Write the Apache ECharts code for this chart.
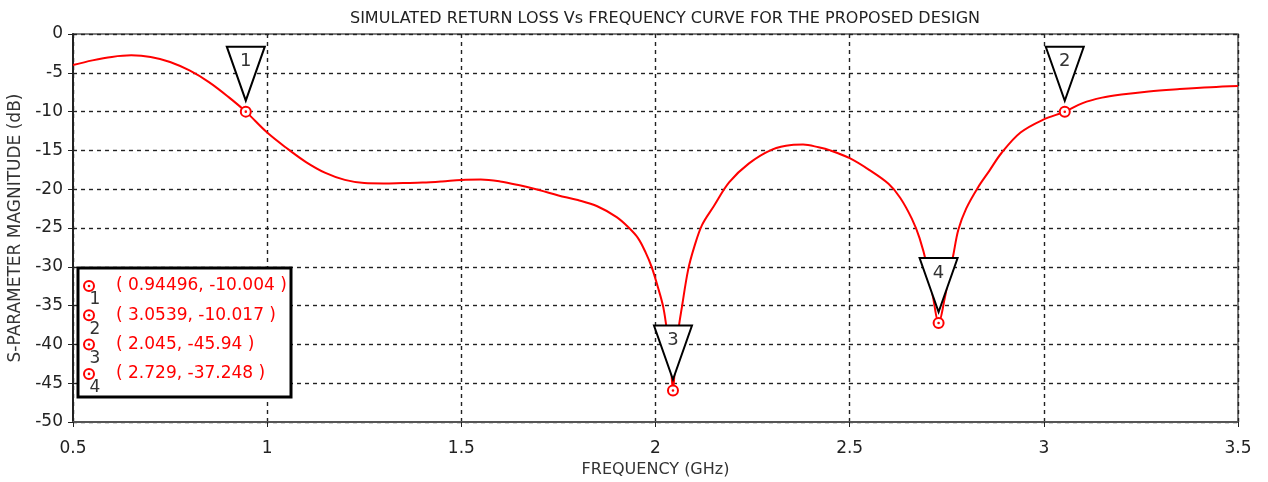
<!DOCTYPE html>
<html>
<head>
<meta charset="utf-8">
<script src="https://cdn.jsdelivr.net/npm/echarts@6/dist/echarts.min.js"></script>
<style>
  html, body { margin: 0; padding: 0; background: #fff; }
  #chart { width: 1268px; height: 482px; }
</style>
</head>
<body>
<div id="chart"></div>
<script>
// Simulated S11 sweep (GHz, dB)
const freqGHz = [
  0.50, 0.55, 0.60, 0.65, 0.70, 0.75, 0.80, 0.85, 0.90, 0.94496,
  1.00, 1.05, 1.10, 1.15, 1.20, 1.25, 1.30, 1.35, 1.40, 1.45,
  1.50, 1.55, 1.60, 1.65, 1.70, 1.75, 1.80, 1.85, 1.90, 1.93,
  1.955, 1.975, 1.99, 2.006, 2.02, 2.03, 2.04, 2.045, 2.05, 2.06,
  2.068, 2.084, 2.10, 2.12, 2.15, 2.19, 2.24, 2.30, 2.35, 2.38,
  2.42, 2.45, 2.50, 2.55, 2.60, 2.63, 2.66, 2.68, 2.70, 2.715,
  2.729, 2.745, 2.755, 2.766, 2.78, 2.80, 2.83, 2.86, 2.89, 2.94,
  3.00, 3.0539, 3.10, 3.15, 3.20, 3.27, 3.35, 3.43, 3.50
];
const returnLossDb = [
  -4.0, -3.4, -2.95, -2.75, -2.95, -3.6, -4.7, -6.2, -8.1, -10.004,
  -12.7, -14.7, -16.5, -17.9, -18.8, -19.2, -19.25, -19.2, -19.15, -19.0,
  -18.8, -18.75, -19.0, -19.5, -20.1, -20.8, -21.4, -22.2, -23.6, -24.9,
  -26.3, -28.2, -30.0, -32.6, -35.2, -38.5, -43.0, -45.94, -43.0, -37.8,
  -35.2, -30.4, -27.4, -24.6, -22.2, -19.1, -16.7, -14.9, -14.3, -14.25,
  -14.6, -15.0, -16.0, -17.5, -19.3, -21.1, -23.8, -26.3, -30.0, -34.0,
  -37.248, -34.0, -31.3, -28.7, -25.2, -22.5, -19.8, -17.6, -15.4, -12.7,
  -11.0, -10.017, -8.9, -8.2, -7.8, -7.4, -7.1, -6.85, -6.7
];

// Markers placed on the trace
const markerIds = [1, 2, 3, 4];
const markerFreq = [0.94496, 3.0539, 2.045, 2.729];
const markerDb = [-10.004, -10.017, -45.94, -37.248];

// Axis ticks
const xTicks = [0.5, 1, 1.5, 2, 2.5, 3, 3.5];
const yTicks = [0, -5, -10, -15, -20, -25, -30, -35, -40, -45, -50];

const FONT = "Tahoma, 'DejaVu Sans', sans-serif";

const traceData = freqGHz.map((f, i) => [f, returnLossDb[i]]);
const markerData = markerIds.map((id, i) => [markerFreq[i], markerDb[i], id]);

function markerGlyph(cx, cy) {
  return [
    { type: 'circle', shape: { cx, cy, r: 5 }, style: { fill: '#fff', stroke: '#ff0000', lineWidth: 2 } },
    { type: 'circle', shape: { cx, cy, r: 1.3 }, style: { fill: '#ff0000' } }
  ];
}

// Marker readout box
const boxX = 78, boxY = 268, rowH = 29.3;
const readout = [
  { type: 'rect', shape: { x: boxX, y: boxY, width: 213, height: 129 },
    style: { fill: '#fff', stroke: '#000', lineWidth: 3 }, z: 100 }
];
markerIds.forEach((id, i) => {
  const cy = boxY + 18 + i * rowH;
  markerGlyph(boxX + 11, cy).forEach(g => { g.z = 101; readout.push(g); });
  readout.push({ type: 'text', z: 101, style: {
    text: String(id), x: boxX + 17, y: cy + 14, align: 'center', verticalAlign: 'middle',
    font: '17px ' + FONT, fill: '#333' } });
  readout.push({ type: 'text', z: 101, style: {
    text: '( ' + String(markerFreq[i]) + ', ' + String(markerDb[i]) + ' )',
    x: boxX + 38, y: cy, align: 'left', verticalAlign: 'middle',
    font: '17px ' + FONT, fill: '#ff0000' } });
});

const chart = echarts.init(document.getElementById('chart'), null, { renderer: 'canvas' });
chart.setOption({
  animation: false,
  backgroundColor: '#fff',
  title: {
    text: 'SIMULATED RETURN LOSS Vs FREQUENCY CURVE FOR THE PROPOSED DESIGN',
    left: 660, top: 6, textAlign: 'center',
    textStyle: { fontFamily: FONT, fontSize: 16, fontWeight: 'normal', color: '#222' }
  },
  grid: {
    left: 73, right: 30, top: 34, bottom: 60, containLabel: false, outerBoundsMode: 'none',
    show: true, borderColor: '#555', borderWidth: 1.5
  },
  xAxis: {
    type: 'value', min: xTicks[0], max: xTicks[xTicks.length - 1], interval: 0.5,
    name: 'FREQUENCY (GHz)', nameLocation: 'middle', nameGap: 39,
    nameTextStyle: { fontFamily: FONT, fontSize: 16, color: '#333' },
    axisLine: { show: true, onZero: false, lineStyle: { color: '#555', width: 2 } },
    axisTick: { show: true, length: 5, lineStyle: { color: '#222' } },
    axisLabel: { fontFamily: FONT, fontSize: 17, color: '#222', margin: 18 },
    splitLine: { show: true, lineStyle: { color: '#222', type: [4, 4], width: 1.4 } }
  },
  yAxis: {
    type: 'value', min: yTicks[yTicks.length - 1], max: yTicks[0], interval: 5,
    name: 'S-PARAMETER MAGNITUDE (dB)', nameLocation: 'middle', nameGap: 45, nameRotate: 90,
    nameTextStyle: { fontFamily: FONT, fontSize: 17, color: '#333' },
    axisLine: { show: true, onZero: false, lineStyle: { color: '#222', width: 2 } },
    axisTick: { show: true, length: 5, lineStyle: { color: '#222' } },
    axisLabel: { fontFamily: FONT, fontSize: 17, color: '#222', margin: 10 },
    splitLine: { show: true, lineStyle: { color: '#222', type: [4, 4], width: 1.4 } }
  },
  series: [
    {
      type: 'line', data: traceData, smooth: 0.35, showSymbol: false,
      lineStyle: { color: '#ff0000', width: 2 }, z: 3
    },
    {
      type: 'custom', data: markerData, z: 5,
      renderItem: (params, api) => {
        const p = api.coord([api.value(0), api.value(1)]);
        const x = p[0], y = p[1];
        const top = y - 65, tip = y - 11, half = 19;
        return {
          type: 'group',
          children: [
            { type: 'polygon', shape: { points: [[x - half, top], [x + half, top], [x, tip]] },
              style: { fill: '#fff', stroke: '#000', lineWidth: 2 } },
            { type: 'text', style: { text: String(api.value(2)), x: x, y: top + 15,
              align: 'center', verticalAlign: 'middle', font: '18px ' + FONT, fill: '#333' } }
          ].concat(markerGlyph(x, y))
        };
      }
    }
  ],
  graphic: readout
});
</script>
</body>
</html>
